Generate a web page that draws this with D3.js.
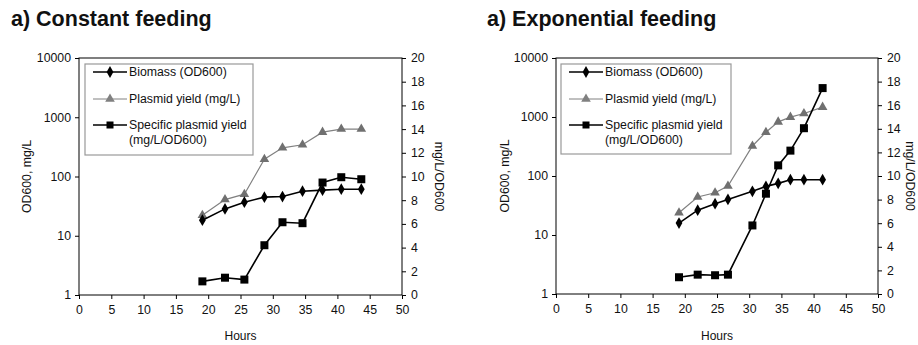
<!DOCTYPE html>
<html><head><meta charset="utf-8">
<script src="https://cdn.jsdelivr.net/npm/d3@7"></script>
<style>body{margin:0;background:#fff}svg{display:block}text{font-family:"Liberation Sans",Arial,sans-serif}</style>
</head><body><svg id="c" width="918" height="345"></svg>
<script>
const titles = ["a) Constant feeding", "a) Exponential feeding"];
const seriesNames = ["Biomass (OD600)", "Plasmid yield (mg/L)", "Specific plasmid yield", "(mg/L/OD600)"];
const xTicks = [0,5,10,15,20,25,30,35,40,45,50];
const leftTicks = [1,10,100,1000,10000];
const rightTicks = [0,2,4,6,8,10,12,14,16,18,20];

const hoursConst = [19.1, 22.6, 25.6, 28.7, 31.5, 34.6, 37.7, 40.6, 43.7];
const biomassConst = [18.3, 28.4, 36.8, 44.8, 45.9, 56.5, 58.8, 61, 61];
const plasmidConst = [22.2, 40.8, 50.3, 196, 305, 343, 561, 631, 631];
const specificConst = [1.15, 1.46, 1.3, 4.2, 6.14, 6.06, 9.49, 9.94, 9.77];

const hoursExp = [19.1, 22.0, 24.7, 26.7, 30.5, 32.6, 34.5, 36.4, 38.5, 41.4];
const biomassExp = [15.9, 26.4, 33.9, 40.1, 54.9, 66.7, 75, 86.6, 86.6, 86.6];
const plasmidExp = [23.8, 44, 52, 67.6, 323, 553, 827, 994, 1146, 1469];
const specificExp = [1.42, 1.64, 1.59, 1.64, 5.81, 8.5, 10.9, 12.15, 14.05, 17.45];

const svg = d3.select("#c");
const panels = [
  {title: titles[0], tx: 11, x0: 79, x1: 402, y0: 58, y1: 295, hours: hoursConst, bio: biomassConst, pla: plasmidConst, spe: specificConst, lg: [85, 64, 253, 155], ylx: 27, yrx: 439},
  {title: titles[1], tx: 487, x0: 556, x1: 878, y0: 58, y1: 294, hours: hoursExp, bio: biomassExp, pla: plasmidExp, spe: specificExp, lg: [561, 64, 731, 154], ylx: 505, yrx: 910}
];
const diamond = d3.symbol().type(d3.symbolDiamond).size(40);
const tri = d3.symbol().type(d3.symbolTriangle).size(40);

panels.forEach(p => {
  const g = svg.append("g");
  g.append("text").attr("x", p.tx).attr("y", 26).attr("font-size", 21.5).attr("font-weight", "bold").attr("fill", "#111").text(p.title);
  const x = d3.scaleLinear().domain([0, 50]).range([p.x0, p.x1]);
  const yl = d3.scaleLog().domain([1, 10000]).range([p.y1, p.y0]);
  const yr = d3.scaleLinear().domain([0, 20]).range([p.y1, p.y0]);

  g.append("rect").attr("x", p.x0).attr("y", p.y0).attr("width", p.x1 - p.x0).attr("height", p.y1 - p.y0).attr("fill", "none").attr("stroke", "#000").attr("stroke-width", 1);

  const ax = g.append("g").attr("transform", `translate(0,${p.y1})`).call(d3.axisBottom(x).tickValues(xTicks).tickSize(4).tickSizeOuter(0).tickPadding(6));
  const al = g.append("g").attr("transform", `translate(${p.x0},0)`).call(d3.axisLeft(yl).tickValues(leftTicks).tickFormat(d3.format("d")).tickSize(4).tickSizeOuter(0).tickPadding(4));
  const ar = g.append("g").attr("transform", `translate(${p.x1},0)`).call(d3.axisRight(yr).tickValues(rightTicks).tickSize(4).tickSizeOuter(0).tickPadding(5));
  [ax, al, ar].forEach(a => { a.select(".domain").remove(); a.selectAll("text").attr("font-size", 12.3).attr("fill", "#111").attr("font-family", "Liberation Sans, Arial, sans-serif"); a.selectAll("line").attr("stroke", "#000"); });

  g.append("text").attr("x", (p.x0 + p.x1) / 2).attr("y", 340).attr("text-anchor", "middle").attr("font-size", 12).attr("fill", "#111").text("Hours");
  g.append("text").attr("transform", `translate(${p.ylx},${(p.y0 + p.y1) / 2}) rotate(-90)`).attr("text-anchor", "middle").attr("dy", "0.35em").attr("font-size", 12.3).attr("fill", "#111").text("OD600, mg/L");
  g.append("text").attr("transform", `translate(${p.yrx},${(p.y0 + p.y1) / 2}) rotate(90)`).attr("text-anchor", "middle").attr("dy", "0.35em").attr("font-size", 12.3).attr("fill", "#111").text("mg/L/OD600");

  // legend
  const [lx0, ly0, lx1, ly1] = p.lg;
  g.append("rect").attr("x", lx0).attr("y", ly0).attr("width", lx1 - lx0).attr("height", ly1 - ly0).attr("fill", "#fff").attr("stroke", "#999").attr("stroke-width", 1.2);
  const items = [
    {y: 72, c: "#000", sym: diamond, w: 1.5, t: [seriesNames[0]]},
    {y: 99, c: "#808080", sym: tri, w: 1, t: [seriesNames[1]]},
    {y: 125, c: "#000", sym: "sq", w: 1.5, t: [seriesNames[2], seriesNames[3]]}
  ];
  items.forEach(it => {
    g.append("line").attr("x1", lx0 + 8).attr("x2", lx0 + 42).attr("y1", it.y).attr("y2", it.y).attr("stroke", it.c).attr("stroke-width", it.w);
    if (it.sym === "sq") g.append("rect").attr("x", lx0 + 25 - 3.5).attr("y", it.y - 3.5).attr("width", 7).attr("height", 7).attr("fill", "#000");
    else g.append("path").attr("d", it.sym()).attr("transform", `translate(${lx0 + 25},${it.y})`).attr("fill", it.c);
    it.t.forEach((s, i) => g.append("text").attr("x", lx0 + 44).attr("y", it.y + 4 + i * 15).attr("font-size", 12.3).attr("fill", "#111").text(s));
  });

  // series
  const bio = p.hours.map((h, i) => [h, p.bio[i]]);
  const pla = p.hours.map((h, i) => [h, p.pla[i]]);
  const spe = p.hours.map((h, i) => [h, p.spe[i]]);
  const lineL = d3.line().x(d => x(d[0])).y(d => yl(d[1]));
  const lineR = d3.line().x(d => x(d[0])).y(d => yr(d[1]));
  g.append("path").datum(pla).attr("d", lineL).attr("fill", "none").attr("stroke", "#808080").attr("stroke-width", 1.2);
  g.selectAll(null).data(pla).enter().append("path").attr("d", tri()).attr("transform", d => `translate(${x(d[0])},${yl(d[1])})`).attr("fill", "#707070");
  g.append("path").datum(bio).attr("d", lineL).attr("fill", "none").attr("stroke", "#000").attr("stroke-width", 1.6);
  g.selectAll(null).data(bio).enter().append("path").attr("d", diamond()).attr("transform", d => `translate(${x(d[0])},${yl(d[1])})`).attr("fill", "#000");
  g.append("path").datum(spe).attr("d", lineR).attr("fill", "none").attr("stroke", "#000").attr("stroke-width", 1.6);
  g.selectAll(null).data(spe).enter().append("rect").attr("x", d => x(d[0]) - 4).attr("y", d => yr(d[1]) - 4).attr("width", 8).attr("height", 8).attr("fill", "#000");
});
</script></body></html>
